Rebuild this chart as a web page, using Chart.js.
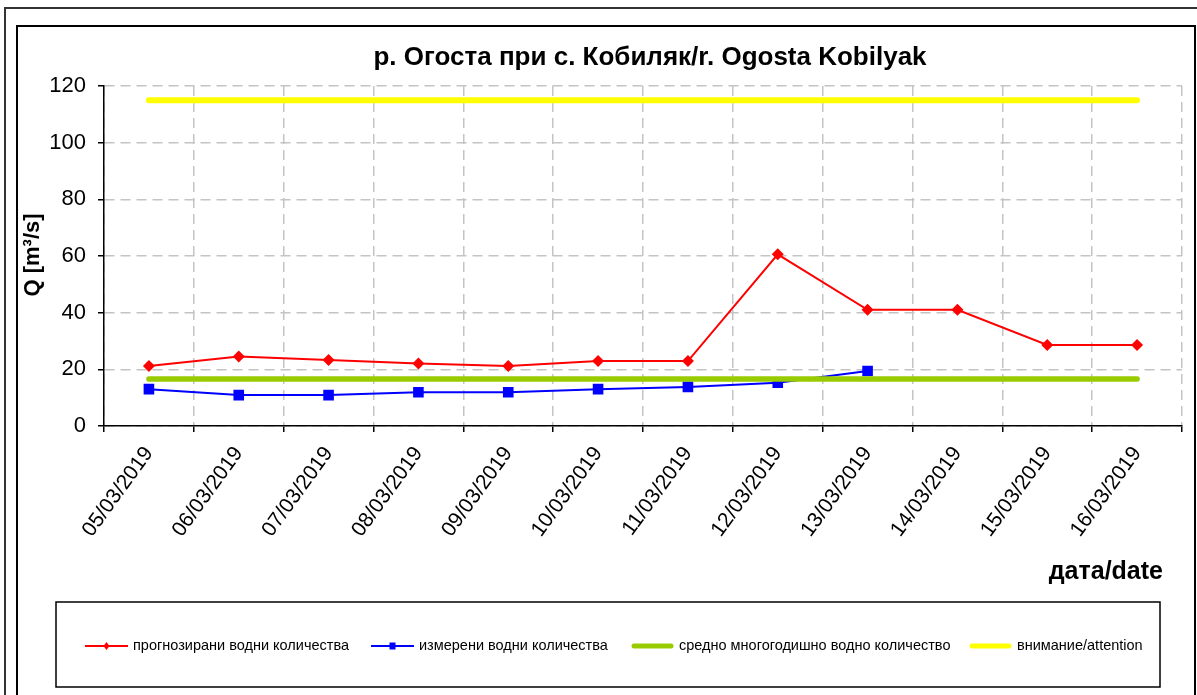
<!DOCTYPE html>
<html>
<head>
<meta charset="utf-8">
<script src="https://cdn.jsdelivr.net/npm/chart.js@4/dist/chart.umd.min.js"></script>
<style>
html,body{margin:0;padding:0;background:#fff;}
canvas{display:block;}
</style>
</head>
<body>
<canvas id="c" width="1197" height="695"></canvas>
<script>
// ---- data ----
const categories = ["05/03/2019","06/03/2019","07/03/2019","08/03/2019","09/03/2019","10/03/2019","11/03/2019","12/03/2019","13/03/2019","14/03/2019","15/03/2019","16/03/2019"];
const forecast = [21.2, 24.5, 23.3, 22.1, 21.2, 22.9, 22.9, 60.6, 41.0, 41.0, 28.6, 28.6];
const measured = [13.0, 10.9, 10.9, 11.9, 11.9, 13.0, 13.8, 15.3, 19.4, null, null, null];
const meanLevel = [16.6, 16.6, 16.6, 16.6, 16.6, 16.6, 16.6, 16.6, 16.6, 16.6, 16.6, 16.6];
const attention = [115, 115, 115, 115, 115, 115, 115, 115, 115, 115, 115, 115];
const seriesNames = ["прогнозирани водни количества", "измерени водни количества", "средно многогодишно водно количество", "внимание/attention"];
const yTicks = [0, 20, 40, 60, 80, 100, 120];
const titleText = "р. Огоста при с. Кобиляк/r. Ogosta Kobilyak";
const yTitle = "Q [m³/s]";
const xTitle = "дата/date";

const FONT = "Arial, 'Liberation Sans', sans-serif";

const decor = {
  id: 'decor',
  beforeDraw(chart) {
    const ctx = chart.ctx;
    ctx.save();
    ctx.fillStyle = '#fff';
    ctx.fillRect(0, 0, chart.width, chart.height);
    ctx.restore();
  },
  afterDraw(chart) {
    const ctx = chart.ctx;
    ctx.save();
    // frames
    ctx.strokeStyle = '#333';
    ctx.lineWidth = 2;
    ctx.strokeRect(5, 8, 1300, 800);
    ctx.strokeStyle = '#000';
    ctx.lineWidth = 2;
    ctx.strokeRect(17, 26, 1178, 800);

    // title
    ctx.fillStyle = '#000';
    ctx.textAlign = 'center';
    ctx.textBaseline = 'middle';
    ctx.font = 'bold 26px ' + FONT;
    ctx.fillText(titleText, 650, 58);

    // y title
    ctx.save();
    ctx.translate(33, 255);
    ctx.rotate(-Math.PI / 2);
    ctx.font = 'bold 22px ' + FONT;
    ctx.fillText(yTitle, 0, 0);
    ctx.restore();

    // x title
    ctx.textAlign = 'right';
    ctx.font = 'bold 25px ' + FONT;
    ctx.fillText(xTitle, 1163, 572);

    // legend box
    ctx.strokeStyle = '#000';
    ctx.lineWidth = 1.5;
    ctx.strokeRect(56, 602, 1104, 85);

    const lx = [85, 371, 631, 969];
    const ly = 646;
    ctx.textAlign = 'left';
    ctx.font = '14.5px ' + FONT;
    chart.data.datasets.forEach((ds, i) => {
      const x0 = lx[i], x1 = lx[i] + 43;
      ctx.save();
      ctx.strokeStyle = ds.borderColor;
      ctx.lineWidth = Math.min(ds.borderWidth, 5);
      ctx.lineCap = ds.borderCapStyle || 'butt';
      ctx.beginPath();
      ctx.moveTo(x0 + (ds.borderCapStyle === 'round' ? 3 : 0), ly);
      ctx.lineTo(x1 - (ds.borderCapStyle === 'round' ? 3 : 0), ly);
      ctx.stroke();
      const cx = (x0 + x1) / 2;
      ctx.fillStyle = ds.borderColor;
      if (ds.pointStyle === 'rectRot') {
        ctx.beginPath();
        ctx.moveTo(cx, ly - 4); ctx.lineTo(cx + 3, ly); ctx.lineTo(cx, ly + 4); ctx.lineTo(cx - 3, ly); ctx.closePath();
        ctx.fill();
      } else if (ds.pointStyle === 'rect') {
        ctx.fillRect(cx - 3, ly - 3.5, 6, 7);
      }
      ctx.restore();
      ctx.fillStyle = '#000';
      ctx.fillText(ds.label, x1 + 5, ly);
    });
    ctx.restore();
  }
};

new Chart(document.getElementById('c'), {
  type: 'line',
  data: {
    labels: categories,
    datasets: [
      { label: seriesNames[0], data: forecast, borderColor: '#ff0000', backgroundColor: '#ff0000', borderWidth: 2,
        pointStyle: 'rectRot', pointRadius: 6, pointBorderWidth: 0, tension: 0, order: 1 },
      { label: seriesNames[1], data: measured, borderColor: '#0000ff', backgroundColor: '#0000ff', borderWidth: 2,
        pointStyle: 'rect', pointRadius: 7.5, pointBorderWidth: 0, tension: 0, order: 3 },
      { label: seriesNames[2], data: meanLevel, borderColor: '#99cc00', backgroundColor: '#99cc00', borderWidth: 5.5,
        borderCapStyle: 'round', pointRadius: 0, tension: 0, order: 2 },
      { label: seriesNames[3], data: attention, borderColor: '#ffff00', backgroundColor: '#ffff00', borderWidth: 6,
        borderCapStyle: 'round', pointRadius: 0, tension: 0, order: 4 }
    ]
  },
  options: {
    responsive: false,
    animation: false,
    events: [],
    layout: { padding: { left: 0, right: 15, top: 86, bottom: 89 } },
    plugins: { legend: { display: false }, tooltip: { enabled: false }, title: { display: false } },
    scales: {
      x: {
        type: 'category',
        offset: true,
        grid: { offset: true, color: '#c4c4c4', lineWidth: 1.5, tickColor: '#000', tickLength: 6, tickWidth: 1.5 },
        border: { color: '#000', width: 1.5, dash: [10, 6] },
        ticks: { autoSkip: false, minRotation: 54, maxRotation: 54, color: '#000', padding: 10,
                 font: { family: FONT, size: 21 } },
        afterFit(s) { s.height = 180; }
      },
      y: {
        min: 0, max: 120,
        afterBuildTicks(s) { s.ticks = yTicks.map(v => ({ value: v })); },
        grid: { color: '#c4c4c4', lineWidth: 1.5, tickColor: '#000', tickLength: 6, tickWidth: 1.5 },
        border: { color: '#000', width: 1.5, dash: [10, 6] },
        ticks: { color: '#000', padding: 12, font: { family: FONT, size: 22 } },
        afterFit(s) { s.width = 104; }
      }
    }
  },
  plugins: [decor]
});
</script>
</body>
</html>
